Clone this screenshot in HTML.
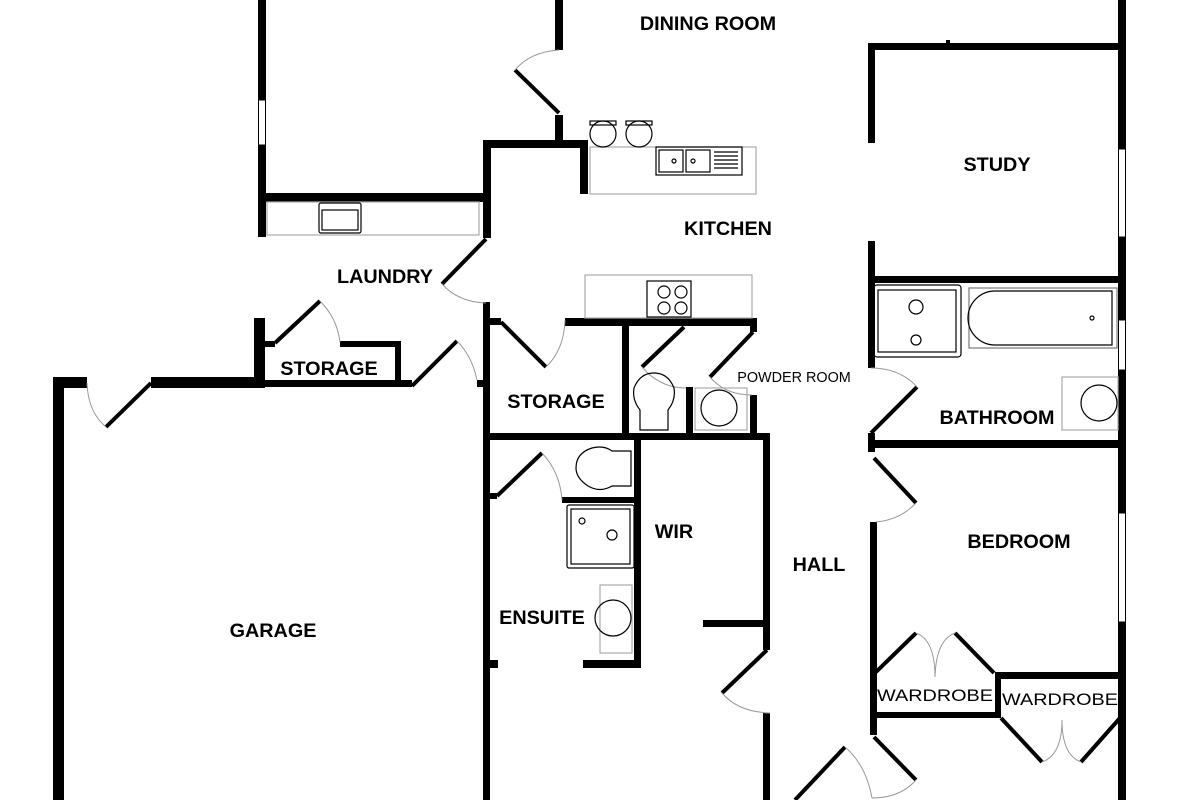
<!DOCTYPE html>
<html><head><meta charset="utf-8"><style>
html,body{margin:0;padding:0;background:#fff}
svg{display:block}
text{font-family:"Liberation Sans",sans-serif;fill:#000}
.b{font-weight:bold;font-size:19.8px}
.r{font-size:17px}
</style></head><body>
<svg width="1200" height="800" viewBox="0 0 1200 800" xmlns="http://www.w3.org/2000/svg">
<g fill="#000">
<rect x="258" y="0" width="8" height="237"/>
<rect x="555" y="0" width="8" height="50"/>
<rect x="555" y="115" width="8" height="30"/>
<rect x="258" y="193" width="232" height="9"/>
<rect x="483" y="140" width="8" height="98"/>
<rect x="483" y="140" width="105" height="8"/>
<rect x="580" y="140" width="8" height="54"/>
<rect x="53" y="377" width="11" height="423"/>
<rect x="53" y="377" width="34" height="11"/>
<rect x="151" y="377" width="114" height="11"/>
<rect x="254" y="318" width="11" height="70"/>
<rect x="265" y="341" width="10" height="6"/>
<rect x="340" y="341" width="61" height="6"/>
<rect x="395" y="341" width="6" height="44"/>
<rect x="265" y="380" width="147" height="7"/>
<rect x="477" y="380" width="6" height="7"/>
<rect x="483" y="302" width="7" height="498"/>
<rect x="490" y="318" width="11" height="7"/>
<rect x="565" y="318" width="192" height="8"/>
<rect x="750" y="318" width="7" height="14"/>
<rect x="622" y="318" width="7" height="119"/>
<rect x="686" y="387" width="7" height="50"/>
<rect x="750" y="395" width="7" height="42"/>
<rect x="483" y="433" width="287" height="7"/>
<rect x="490" y="493" width="7" height="6"/>
<rect x="562" y="497" width="72" height="6"/>
<rect x="634" y="437" width="7" height="231"/>
<rect x="583" y="660" width="58" height="8"/>
<rect x="490" y="660" width="8" height="8"/>
<rect x="763" y="437" width="7" height="213"/>
<rect x="703" y="620" width="60" height="7"/>
<rect x="763" y="713" width="7" height="87"/>
<rect x="868" y="43" width="258" height="7"/>
<rect x="1118" y="0" width="8" height="800"/>
<rect x="868" y="43" width="7" height="100"/>
<rect x="868" y="241" width="7" height="127"/>
<rect x="868" y="276" width="258" height="7"/>
<rect x="868" y="433" width="7" height="19"/>
<rect x="868" y="440" width="258" height="8"/>
<rect x="870" y="522" width="7" height="213"/>
<rect x="876" y="712" width="125" height="6"/>
<rect x="995" y="672" width="6" height="46"/>
<rect x="995" y="672" width="125" height="7"/>
<rect x="946" y="40" width="4" height="4"/>
</g>
<g fill="#fff" stroke="#000" stroke-width="1">
<rect x="258.5" y="100" width="7" height="45"/>
<rect x="1118.5" y="149" width="7" height="88"/>
<rect x="1118.5" y="320" width="7" height="50"/>
<rect x="1118.5" y="513" width="7" height="109"/>
</g>
<g stroke="#000" stroke-width="4" fill="none">
<line x1="515" y1="70" x2="559" y2="113"/>
<line x1="486" y1="239" x2="442" y2="284"/>
<line x1="106" y1="427" x2="151" y2="383"/>
<line x1="275" y1="343" x2="320" y2="301"/>
<line x1="412" y1="386" x2="457" y2="341"/>
<line x1="501" y1="322" x2="546" y2="367"/>
<line x1="684" y1="327" x2="642" y2="367"/>
<line x1="753" y1="332" x2="710" y2="377"/>
<line x1="497" y1="496" x2="542" y2="453"/>
<line x1="767" y1="650" x2="722" y2="693"/>
<line x1="871" y1="433" x2="917" y2="387"/>
<line x1="874" y1="458" x2="916" y2="503"/>
<line x1="876" y1="672" x2="916" y2="633"/>
<line x1="955" y1="633" x2="994" y2="673"/>
<line x1="1001" y1="718" x2="1042" y2="762"/>
<line x1="1120" y1="718" x2="1081" y2="762"/>
<line x1="874" y1="737" x2="916" y2="780"/>
<line x1="845" y1="747" x2="795" y2="800"/>
</g>
<g stroke="#999" stroke-width="1" fill="none">
<path d="M515 70 Q530 52 559 50"/>
<path d="M442 284 Q458 302 486 303"/>
<path d="M87 383 Q88 412 106 427"/>
<path d="M320 301 Q337 318 340 342"/>
<path d="M457 341 Q472 356 477 380"/>
<path d="M546 367 Q564 350 565 320"/>
<path d="M642 367 Q660 388 686 388"/>
<path d="M710 377 Q725 395 752 395"/>
<path d="M542 453 Q560 472 562 500"/>
<path d="M722 693 Q738 712 770 713"/>
<path d="M917 387 Q900 368 871 368"/>
<path d="M916 503 Q900 520 876 522"/>
<path d="M916 633 Q935 640 935 677"/>
<path d="M955 633 Q936 640 935 677"/>
<path d="M1042 762 Q1062 755 1062 720"/>
<path d="M1081 762 Q1062 755 1062 720"/>
<path d="M916 780 Q900 798 872 798"/>
<path d="M845 747 Q866 765 872 798"/>
</g>
<g fill="none" stroke="#000" stroke-width="1.2">
<rect x="590" y="147" width="166" height="47" stroke="#aaa"/>
<rect x="656" y="147" width="86" height="28"/>
<rect x="659" y="150" width="24" height="22"/>
<rect x="686" y="150" width="24" height="22"/>
<circle cx="674" cy="161" r="2"/><circle cx="693" cy="161" r="2"/>
<path d="M714 152h24M714 156h24M714 160h24M714 164h24M714 168h24"/>
<circle cx="603" cy="134" r="13"/><circle cx="639" cy="134" r="13"/>
<rect x="590" y="121" width="26" height="4"/><rect x="626" y="121" width="26" height="4"/>
<rect x="267" y="202" width="212" height="33" stroke="#aaa"/>
<rect x="319" y="203" width="42" height="30" rx="2"/>
<rect x="322" y="210" width="36" height="20"/>
<rect x="585" y="275" width="167" height="43" stroke="#aaa"/>
<rect x="647" y="281" width="44" height="36"/>
<circle cx="664" cy="292" r="6"/><circle cx="681" cy="292" r="6"/>
<circle cx="664" cy="308" r="6"/><circle cx="681" cy="308" r="6"/>
<path d="M640 430 L640 410 Q632 400 634 388 Q640 373 654 373 Q668 373 674 388 Q676 400 668 410 L668 430 Z"/>
<rect x="695" y="388" width="52" height="42" stroke="#aaa"/>
<circle cx="719" cy="408" r="18"/>
<rect x="874" y="285" width="87" height="72" rx="3"/>
<rect x="878" y="290" width="78" height="62"/>
<circle cx="916" cy="307" r="7"/><circle cx="916" cy="340" r="5"/>
<rect x="969" y="288" width="148" height="60" stroke="#777"/>
<path d="M995 291 H1112 V345 H995 A27 27 0 0 1 995 291 Z"/>
<circle cx="1092" cy="318" r="2"/>
<rect x="1062" y="377" width="56" height="53" stroke="#aaa"/>
<circle cx="1099" cy="403" r="18"/>
<path d="M631 451 V486 H612 Q600 493 588 486 Q576 478 576 468 Q576 453 592 448 Q604 445 612 451 Z"/>
<rect x="567" y="505" width="67" height="63" rx="2"/>
<rect x="571" y="509" width="59" height="55"/>
<circle cx="582" cy="521" r="3"/><circle cx="612" cy="535" r="5"/>
<rect x="600" y="585" width="32" height="68" stroke="#aaa"/>
<circle cx="613" cy="618" r="18"/>
</g>
<text class="b" x="708" y="30" text-anchor="middle">DINING ROOM</text>
<text class="b" x="728" y="235" text-anchor="middle">KITCHEN</text>
<text class="b" x="997" y="171" text-anchor="middle">STUDY</text>
<text class="b" x="385" y="283" text-anchor="middle">LAUNDRY</text>
<text class="b" x="329" y="375" text-anchor="middle">STORAGE</text>
<text class="b" x="556" y="408" text-anchor="middle">STORAGE</text>
<text x="794" y="382" text-anchor="middle" font-size="14.4">POWDER ROOM</text>
<text class="b" x="997" y="424" text-anchor="middle">BATHROOM</text>
<text class="b" x="674" y="538" text-anchor="middle">WIR</text>
<text class="b" x="819" y="571" text-anchor="middle">HALL</text>
<text class="b" x="1019" y="548" text-anchor="middle">BEDROOM</text>
<text class="b" x="542" y="624" text-anchor="middle">ENSUITE</text>
<text class="b" x="273" y="637" text-anchor="middle">GARAGE</text>
<text class="r" x="935" y="701" text-anchor="middle" textLength="116" lengthAdjust="spacingAndGlyphs">WARDROBE</text>
<text class="r" x="1060" y="705" text-anchor="middle" textLength="116" lengthAdjust="spacingAndGlyphs">WARDROBE</text>
</svg>
</body></html>
